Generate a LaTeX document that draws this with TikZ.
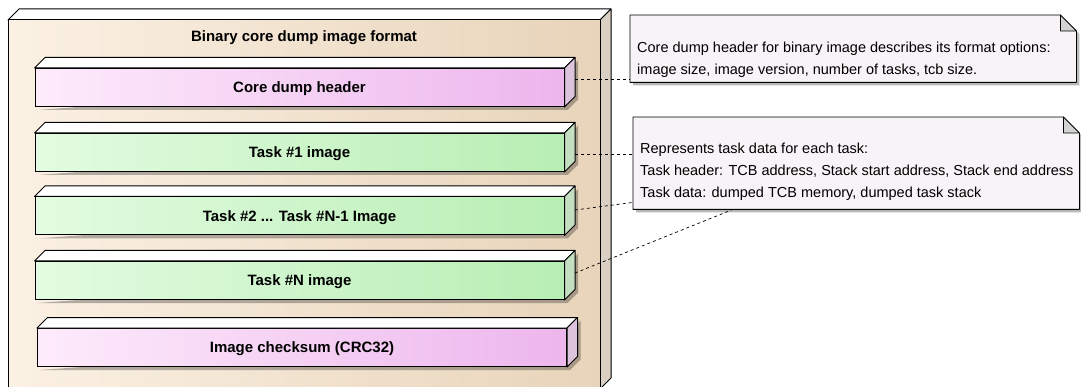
\documentclass[tikz,border=0pt]{standalone}
\usepackage{fontspec}
\setmainfont{Liberation Sans}
\definecolor{outerL}{HTML}{FBF1E4}
\definecolor{outerR}{HTML}{E8D4BA}
\definecolor{outerside}{HTML}{D9CFC2}
\definecolor{pinkL}{HTML}{FDEBFB}
\definecolor{pinkR}{HTML}{EDB6ED}
\definecolor{pinkside}{HTML}{DCC5DC}
\definecolor{greenL}{HTML}{E3FCE1}
\definecolor{greenR}{HTML}{B8EEB4}
\definecolor{greenside}{HTML}{C3DEC1}
\definecolor{notefill}{HTML}{F7F3F7}
\definecolor{foldfill}{HTML}{D3D3D3}
\pgfdeclarelayer{back}
\pgfdeclarelayer{shade}
\pgfsetlayers{back,shade,main}
\tikzset{
  boldlabel/.style={font=\bfseries\fontsize{15}{17}\selectfont, text height=10.8pt, text depth=0pt},
  slab/.style={boldlabel, draw=black, line width=1pt, minimum width=529pt, minimum height=38pt, inner sep=0pt},
  pinkslab/.style={slab, left color=pinkL, right color=pinkR},
  greenslab/.style={slab, left color=greenL, right color=greenR},
  facet/.style={draw=black, line width=1pt, line join=round},
  softshadow/.style={fill=black, opacity=0.28},
  notebox/.style={inner sep=0pt, anchor=north west},
  notetext/.style={inner sep=0pt, anchor=north west, align=left, font=\fontsize{14.5}{22}\selectfont},
  link/.style={dash pattern=on 3pt off 3pt, line width=0.7pt},
}
% top and right faces of a slab, with its shadow
\newcommand{\slabfaces}[2]{%
  \begin{pgfonlayer}{shade}
    \fill[softshadow] ([shift={(3,3)}]#1.south west) -- ([shift={(3,3)}]#1.south east)
      -- ([shift={(13.5,-7.5)}]#1.south east) -- ([shift={(13.5,-7.5)}]#1.north east)
      -- ([shift={(3,3)}]#1.north east) -- cycle;
  \end{pgfonlayer}
  \draw[facet, fill=white] (#1.north west) -- ++(10.5,-10.5)
    -- ([shift={(10.5,-10.5)}]#1.north east) -- (#1.north east) -- cycle;
  \draw[facet, fill=#2] (#1.north east) -- ([shift={(10.5,-10.5)}]#1.north east)
    -- ([shift={(10.5,-10.5)}]#1.south east) -- (#1.south east) -- cycle;
}
% note outline with folded corner
\newcommand{\notefaces}[1]{%
  \begin{pgfonlayer}{shade}
    \fill[softshadow] ([shift={(3,3)}]#1.north west) -- ([shift={(-13,3)}]#1.north east)
      -- ([shift={(3,19)}]#1.north east) -- ([shift={(3,3)}]#1.south east)
      -- ([shift={(3,3)}]#1.south west) -- cycle;
  \end{pgfonlayer}
  \draw[facet, line width=0.8pt, fill=notefill] (#1.north west) -- ([xshift=-16pt]#1.north east)
    -- ([yshift=-16pt]#1.north east) -- (#1.south east) -- (#1.south west) -- cycle;
  \draw[facet, line width=0.8pt, fill=foldfill] ([xshift=-16pt]#1.north east)
    -- ([xshift=-16pt,yshift=-16pt]#1.north east) -- ([yshift=-16pt]#1.north east) -- cycle;
}
\begin{document}
\begin{tikzpicture}[x=1pt,y=-1pt]
  \clip (0,0) rectangle (1081,387);
  % outer package box
  \begin{pgfonlayer}{back}
    \draw[facet, fill=white] (8,20) -- (19,9) -- (611,9) -- (600,20) -- cycle;
    \draw[facet, fill=outerside] (600,20) -- (611,9) -- (611,378) -- (600,389) -- cycle;
    \draw[facet, left color=outerL, right color=outerR] (8,20) rectangle (600,389);
  \end{pgfonlayer}
  \node[boldlabel] (title) at (304,36.5) {Binary core dump image format};

  % image parts
  \node[pinkslab] (hdr) at (299.5,87.5) {Core dump header};
  \slabfaces{hdr}{pinkside}
  \node[greenslab] (task1) at (299.5,152.5) {Task \#1 image};
  \slabfaces{task1}{greenside}
  \node[greenslab] (taskmid) at (299.5,216) {Task \#2 ... Task \#N-1 Image};
  \slabfaces{taskmid}{greenside}
  \node[greenslab] (taskn) at (299.5,280.5) {Task \#N image};
  \slabfaces{taskn}{greenside}
  \node[pinkslab] (crc) at (302,347.5) {Image checksum (CRC32)};
  \slabfaces{crc}{pinkside}

  % notes
  \node[notebox, minimum width=446pt, minimum height=67pt] (hdrnote) at (630,15) {};
  \notefaces{hdrnote}
  \node[notetext] (hdrnotetext) at ([shift={(7,26.5)}]hdrnote.north west)
    {Core dump header for binary image describes its format options:\\
     image size, image version, number of tasks, tcb size.};
  \node[notebox, minimum width=446pt, minimum height=92pt] (tasknote) at (633,117) {};
  \notefaces{tasknote}
  \node[notetext] (tasknotetext) at ([shift={(7,25.5)}]tasknote.north west)
    {Represents task data for each task:\\
     Task header: TCB address, Stack start address, Stack end address\\
     Task data: dumped TCB memory, dumped task stack};

  % links
  \draw[link] ([shift={(10.5,-8.5)}]hdr.east) coordinate (hdrlink) -- (hdrlink -| hdrnote.west);
  \draw[link] ([shift={(10.5,1.5)}]task1.east) coordinate (task1link) -- (task1link -| tasknote.west);
  \draw[link] ([shift={(10.5,-6)}]taskmid.east) -- ([yshift=7pt]tasknote.south west);
  \draw[link] ([shift={(10.5,-7.5)}]taskn.east) -- ([xshift=100pt]tasknote.south west);
\end{tikzpicture}
\end{document}
